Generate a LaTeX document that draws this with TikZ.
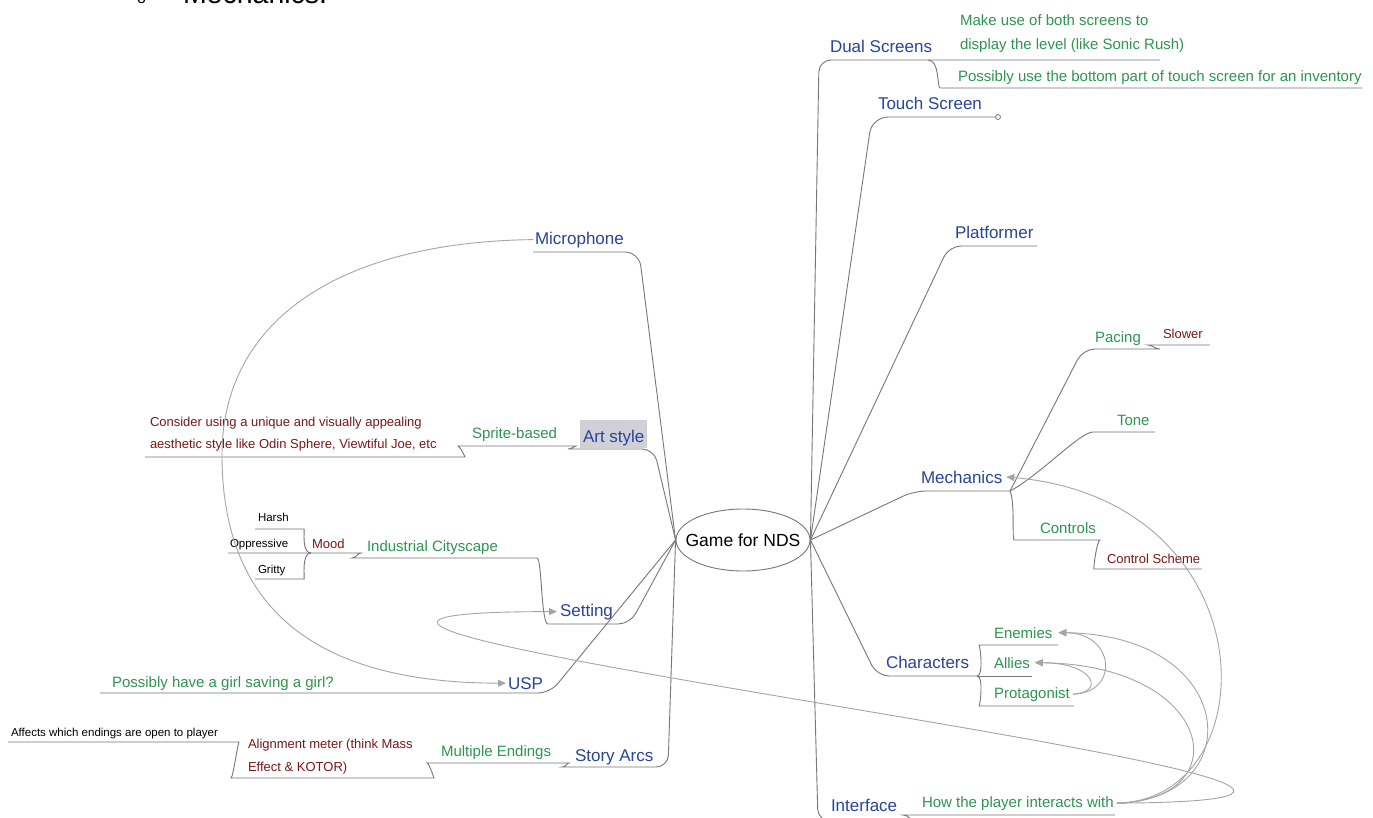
\documentclass[tikz,border=0pt]{standalone}
\usepackage{fontspec}
\setmainfont{Liberation Sans}
\usetikzlibrary{arrows.meta,shapes.geometric}

\definecolor{topicblue}{RGB}{40,68,155}
\definecolor{subgreen}{RGB}{45,150,80}
\definecolor{notered}{RGB}{125,22,22}
\definecolor{branchgray}{RGB}{118,118,124}
\definecolor{linkgray}{RGB}{165,165,165}
\definecolor{hilite}{RGB}{208,208,214}

\tikzset{
  lbl/.style={anchor=base west, inner sep=0pt, outer sep=0pt},
  topic/.style={lbl, text=topicblue, font=\fontsize{17}{20}\selectfont},
  sub/.style={lbl, text=subgreen, font=\fontsize{15}{18}\selectfont},
  note/.style={lbl, text=notered, font=\fontsize{13}{16}\selectfont},
  leaf/.style={lbl, text=black, font=\fontsize{11.5}{14}\selectfont},
  branch/.style={draw=branchgray, line width=0.9pt, rounded corners=12pt},
  link/.style={draw=linkgray, line width=0.9pt, -{Triangle[length=8pt,width=7pt]}},
}

\begin{document}
\begin{tikzpicture}[x=1pt,y=-1pt]
\useasboundingbox (0,0) rectangle (1373,817);
\fill[white] (0,0) rectangle (1373,817);
\clip (0,0) rectangle (1373,817);

% heading of the page, cut by the top edge
\node[lbl, font=\fontsize{16}{18}\selectfont] (bullet) at (137,3) {o};
\node[lbl, font=\fontsize{28.5}{30}\selectfont] (heading) at (183,3) {Mechanics.};

% central topic
\node[draw=branchgray, line width=0.9pt, ellipse, minimum width=134pt, minimum height=62pt, inner sep=0pt] (root) at (743,540) {};
\node[font=\fontsize{17.5}{20}\selectfont, inner sep=0pt] (rootlabel) at (743,540) {Game for NDS};

% ---- right-hand topics
\node[topic] (dual) at (830,52) {Dual Screens};
\node[sub] (dualA1) at (960,25) {Make use of both screens to};
\node[sub] (dualA2) at (960,49) {display the level (like Sonic Rush)};
\node[sub] (dualB) at (958,81) {Possibly use the bottom part of touch screen for an inventory};
\node[topic] (touch) at (878,109) {Touch Screen};
\node[circle, draw=branchgray, line width=0.8pt, fill=white, inner sep=0pt, minimum size=5pt] (knob) at (998,117) {};
\node[topic] (plat) at (955,238) {Platformer};
\node[topic] (mech) at (921,483) {Mechanics};
\node[sub] (pacing) at (1095,342) {Pacing};
\node[note] (slower) at (1163,338) {Slower};
\node[sub] (tone) at (1117,425) {Tone};
\node[sub] (controls) at (1040,533) {Controls};
\node[note] (cscheme) at (1107,563) {Control Scheme};
\node[topic] (chars) at (886,668) {Characters};
\node[sub] (enemies) at (994,638) {Enemies};
\node[sub] (allies) at (994,668) {Allies};
\node[sub] (protag) at (994,698) {Protagonist};
\node[topic] (iface) at (831,811) {Interface};
\node[sub] (howp) at (922,807) {How the player interacts with};

% ---- left-hand topics
\node[topic] (mic) at (535,244) {Microphone};
\fill[hilite] (580,420) rectangle (647,448);
\node[topic] (art) at (583,442) {Art style};
\node[sub] (sprite) at (472,438) {Sprite-based};
\node[note] (consider1) at (150,426) {Consider using a unique and visually appealing};
\node[note] (consider2) at (150,448) {aesthetic style like Odin Sphere, Viewtiful Joe, etc};
\node[sub] (indus) at (367,551) {Industrial Cityscape};
\node[note] (mood) at (312,548) {Mood};
\node[leaf] (harsh) at (258,521) {Harsh};
\node[leaf] (oppr) at (230,547) {Oppressive};
\node[leaf] (gritty) at (258,573) {Gritty};
\node[topic] (setting) at (560,616) {Setting};
\node[topic] (usp) at (508,689) {USP};
\node[sub] (girl) at (112,687) {Possibly have a girl saving a girl?};
\node[topic] (story) at (575,761) {Story Arcs};
\node[sub] (multi) at (441,756) {Multiple Endings};
\node[note] (align1) at (248,748) {Alignment meter (think Mass};
\node[note] (align2) at (248,771) {Effect \& KOTOR)};
\node[leaf] (affects) at (11,736) {Affects which endings are open to player};

% ---- branches on the right
\draw[branch] (root.east) -- (819,60) -- (1160,60);
\draw[branch] (928,60) .. controls (940,60) and (937,88) .. (952,88) -- (1362,88);
\draw[branch, rounded corners=16pt] (root.east) -- (872,117) -- (knob.west);
\draw[branch] (root.east) -- (949,246) -- (1037,246);
\draw[branch] (root.east) -- (914,491) -- (1010,491);
\draw[branch] (1010,491) -- (1083,349) -- (1148,349) .. controls (1155,349) and (1152,345) .. (1160,345) -- (1210,345);
\draw[branch] (1010,491) .. controls (1040,475) and (1080,432) .. (1105,432) -- (1155,432);
\draw[branch] (1010,491) .. controls (1015,502) and (1012,540) .. (1026,540) -- (1088,540)
  .. controls (1097,540) and (1093,569) .. (1106,569) -- (1202,569);
\draw[branch] (root.east) -- (877,676) -- (977,676);
\draw[branch] (977,676) .. controls (984,676) and (980,645) .. (991,645) -- (1058,645);
\draw[branch] (977,676) -- (1032,676);
\draw[branch] (977,676) .. controls (984,676) and (980,706) .. (991,706) -- (1074,706);
\draw[branch] (root.east) -- (818,821) -- (905,821) .. controls (910,821) and (909,815) .. (915,815) -- (1115,815);

% ---- branches on the left
\draw[branch, rounded corners=14pt] (root.west) -- (639,252) -- (533,252);
\draw[branch] (root.west) -- (654,449) -- (580,449) .. controls (572,449) and (574,446) .. (564,446) -- (470,446)
  .. controls (460,446) and (465,457) .. (453,457) -- (145,457);
\draw[branch] (root.west) -- (630,624) -- (560,624) .. controls (541,624) and (542,558) .. (525,558) -- (364,558)
  .. controls (356,558) and (358,553) .. (349,553) -- (228,553);
\draw[branch] (311,553) .. controls (301,553) and (305,529) .. (292,529) -- (255,529);
\draw[branch] (311,553) .. controls (301,553) and (305,579) .. (292,579) -- (255,579);
\draw[branch] (root.west) -- (550,693) -- (100,693);
\draw[branch] (root.west) -- (668,767) -- (574,767) .. controls (566,767) and (567,763) .. (557,763) -- (439,763)
  .. controls (429,763) and (434,778) .. (422,778) -- (243,778)
  .. controls (233,778) and (238,742) .. (227,742) -- (8,742);

% ---- relationship links
\draw[link] ([xshift=-2pt]mic.west) .. controls (340,242) and (222,320) .. (222,455)
  .. controls (222,620) and (330,683) .. ([xshift=-2pt]usp.west);
\draw[link] ([xshift=3pt]howp.east) .. controls (1680,800) and (0,612) .. ([xshift=-3pt]setting.west);
\draw[link] ([xshift=3pt]howp.east) .. controls (1270,800) and (1270,500) .. ([xshift=4pt]mech.east);
\draw[link] ([xshift=3pt]howp.east) .. controls (1250,800) and (1240,635) .. ([xshift=6pt]enemies.east);
\draw[link] ([xshift=3pt]howp.east) .. controls (1240,800) and (1215,665) .. ([xshift=5pt]allies.east);
\draw[link] ([xshift=3pt]protag.east) .. controls (1120,693) and (1115,633) .. ([xshift=6pt]enemies.east);
\draw[link] ([xshift=3pt]protag.east) .. controls (1105,693) and (1095,663) .. ([xshift=5pt]allies.east);
\end{tikzpicture}
\end{document}
